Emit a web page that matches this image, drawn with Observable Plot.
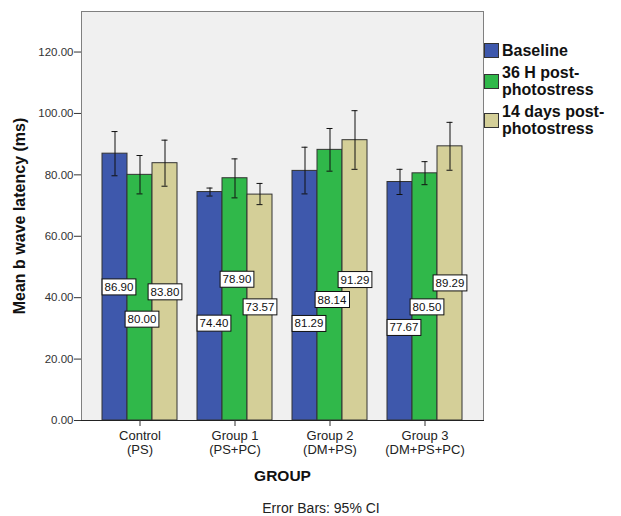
<!DOCTYPE html>
<html>
<head>
<meta charset="utf-8">
<script src="https://cdn.jsdelivr.net/npm/d3@7"></script>
<script src="https://cdn.jsdelivr.net/npm/@observablehq/plot@0.6"></script>
<style>
  body { margin: 0; background: white; }
  #wrap { position: relative; width: 621px; height: 516px; font-family: "Liberation Sans", Arial, sans-serif; color: #111; }
  #legend { position: absolute; left: 484px; top: 42px; font-weight: bold; font-size: 16px; line-height: 17px; }
  .item { display: flex; align-items: center; margin-bottom: 5px; }
  .sw { width: 13px; height: 13px; border: 1px solid #333; margin-right: 3px; flex: none; }
  .lab { white-space: pre; }
  #caption { position: absolute; top: 500px; left: 321px; transform: translateX(-50%); font-size: 14px; line-height: 16px; color: #222; white-space: nowrap; }
  g[aria-label="y-axis label"] text { font-weight: bold; font-size: 16px; fill: #111; }
  g[aria-label="fx-axis label"] text { font-weight: bold; font-size: 15.5px; fill: #111; }
</style>
</head>
<body>
<div id="wrap"></div>
<script>
const groups = ["Control\n(PS)", "Group 1\n(PS+PC)", "Group 2\n(DM+PS)", "Group 3\n(DM+PS+PC)"];
const series = ["Baseline", "36 H post-photostress", "14 days post-photostress"];
const legendLabels = ["Baseline", "36 H post-\nphotostress", "14 days post-\nphotostress"];
const colors = ["#3e58ac", "#30b84a", "#d4cf98"];

const baseline = [86.90, 74.40, 81.29, 77.67];
const h36 = [80.00, 78.90, 88.14, 80.50];
const d14 = [83.80, 73.57, 91.29, 89.29];

const baselineLo = [79.7, 73.1, 73.8, 73.6];
const baselineHi = [94.1, 75.7, 89.0, 81.8];
const h36Lo = [73.8, 72.5, 81.2, 76.8];
const h36Hi = [86.3, 85.2, 95.1, 84.3];
const d14Lo = [76.3, 70.3, 81.8, 81.5];
const d14Hi = [91.3, 77.2, 100.9, 97.1];

// where the value boxes sit (in data units)
const baselineLabelAt = [43.4, 31.6, 31.5, 30.2];
const h36LabelAt = [32.9, 45.9, 39.3, 36.9];
const d14LabelAt = [41.8, 36.9, 45.8, 44.7];

const yTicks = [0, 20, 40, 60, 80, 100, 120];

const values = [baseline, h36, d14];
const los = [baselineLo, h36Lo, d14Lo];
const his = [baselineHi, h36Hi, d14Hi];
const labelAts = [baselineLabelAt, h36LabelAt, d14LabelAt];

const data = groups.flatMap((g, i) => series.map((s, j) => ({
  group: g, series: s, value: values[j][i], lo: los[j][i], hi: his[j][i], labelAt: labelAts[j][i]
})));

const labelDx = [4, 2, 0];
const outerGap = 20; // grey space between the frame and the first/last group

const chart = Plot.plot({
  width: 621,
  height: 516,
  marginLeft: 100,
  marginRight: 157,
  marginTop: 11,
  marginBottom: 96,
  style: { fontFamily: "'Liberation Sans', Arial, sans-serif", fontSize: "11px", color: "#222", background: "white" },
  fx: { domain: groups, paddingInner: 0.19, paddingOuter: 0 },
  x: { domain: series, padding: 0, axis: null },
  y: { domain: [0, 133.2] },
  color: { domain: series, range: colors },
  marks: [
    Plot.frame({ facet: "super", fill: "#f0f0f0", stroke: "#808080", insetLeft: -outerGap, insetRight: -outerGap }),
    Plot.barY(data, { fx: "group", x: "series", y: "value", fill: "series", stroke: "#333", strokeWidth: 1 }),
    Plot.ruleX(data, { fx: "group", x: "series", y1: "lo", y2: "hi", stroke: "#111", strokeWidth: 1 }),
    Plot.tickY(data, { fx: "group", x: "series", y: "lo", stroke: "#111", insetLeft: 9.5, insetRight: 9.5 }),
    Plot.tickY(data, { fx: "group", x: "series", y: "hi", stroke: "#111", insetLeft: 9.5, insetRight: 9.5 }),
    ...series.map((s, j) => Plot.text(data.filter(d => d.series === s), {
      fx: "group", x: "series", y: "labelAt", text: d => d.value.toFixed(2),
      dx: labelDx[j], fill: "#111", fontSize: 11.5
    })),
    Plot.frame({ facet: "super", anchor: "bottom", stroke: "#222", insetLeft: -outerGap, insetRight: -outerGap }),
    Plot.axisY(yTicks, {
      dx: -outerGap,
      tickFormat: d3.format(".2f"), tickSize: 7, tickPadding: 1, fontSize: 11.5, stroke: "#333", fill: "#333",
      label: "Mean b wave latency (ms)", labelAnchor: "center", labelOffset: 88, labelArrow: "none"
    }),
    Plot.axisFx({
      anchor: "bottom", tickSize: 6, tickPadding: 4, fontSize: 13, lineHeight: 1.05, stroke: "#333", fill: "#222",
      label: "GROUP", labelAnchor: "center", labelOffset: 60, labelArrow: "none"
    })
  ]
});

const wrap = document.getElementById("wrap");
wrap.appendChild(chart);

// white boxes behind value labels
const svgNS = "http://www.w3.org/2000/svg";
chart.querySelectorAll('g[aria-label="text"] text').forEach(t => {
  const b = t.getBBox();
  const r = document.createElementNS(svgNS, "rect");
  r.setAttribute("x", b.x - 2.5);
  r.setAttribute("y", b.y + b.height / 2 - 8);
  r.setAttribute("width", b.width + 5);
  r.setAttribute("height", 16);
  r.setAttribute("fill", "white");
  r.setAttribute("stroke", "#111");
  r.setAttribute("stroke-width", 1);
  if (t.getAttribute("transform")) r.setAttribute("transform", t.getAttribute("transform"));
  t.parentNode.insertBefore(r, t);
});

// legend
const legend = document.createElement("div");
legend.id = "legend";
series.forEach((s, j) => {
  const item = document.createElement("div");
  item.className = "item";
  const sw = document.createElement("div");
  sw.className = "sw";
  sw.style.background = colors[j];
  const lab = document.createElement("div");
  lab.className = "lab";
  lab.textContent = legendLabels[j];
  item.appendChild(sw);
  item.appendChild(lab);
  legend.appendChild(item);
});
wrap.appendChild(legend);

const cap = document.createElement("div");
cap.id = "caption";
cap.textContent = "Error Bars: 95% CI";
wrap.appendChild(cap);
</script>
</body>
</html>
